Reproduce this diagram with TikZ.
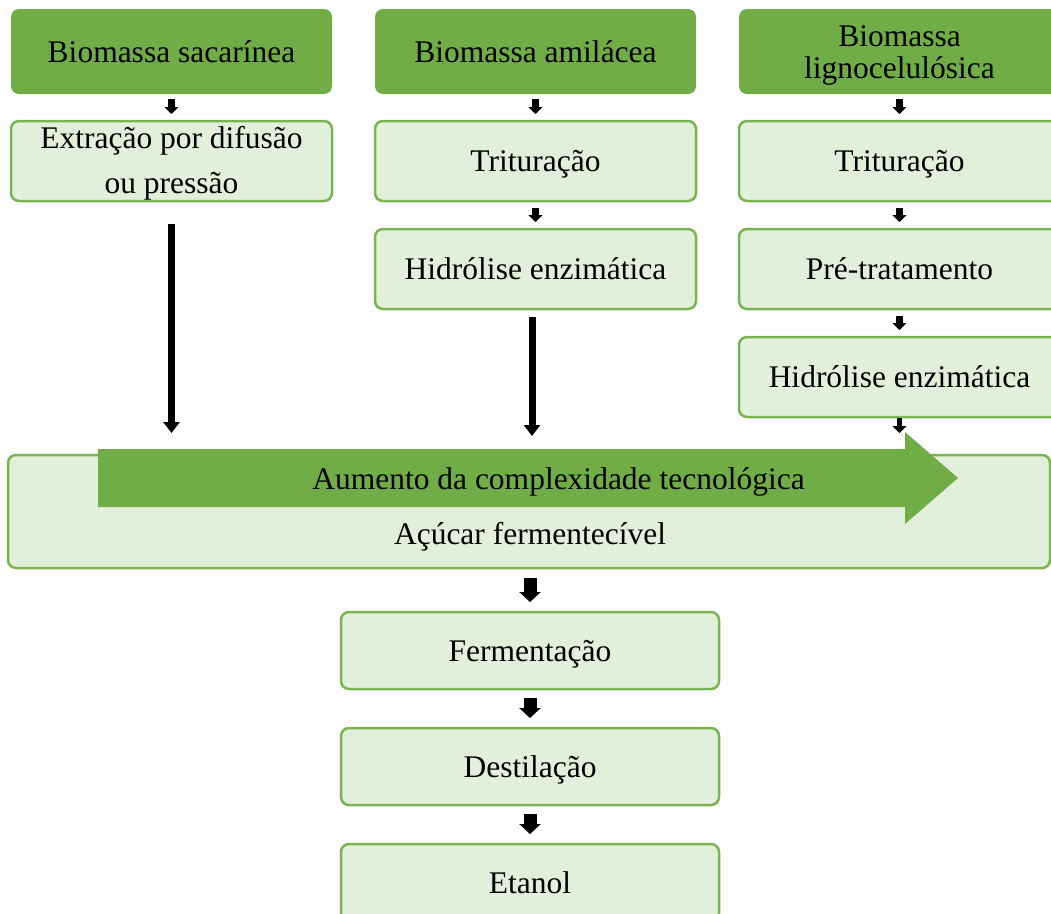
\documentclass[tikz,border=0pt]{standalone}
\usepackage{fontspec}
\setmainfont{Liberation Serif}
\usetikzlibrary{arrows.meta}
\definecolor{dkgreen}{HTML}{70AD47}
\definecolor{ltgreen}{HTML}{E2EFDA}
\definecolor{bdgreen}{HTML}{7AB451}
\newcommand{\twolines}[4]{\raisebox{#3}[30pt][30pt]{\fontsize{31.5}{#4}\selectfont\begin{tabular}[t]{@{}c@{}}#1\\#2\end{tabular}}}
\tikzset{
  base/.style={rectangle, rounded corners=8pt, inner sep=0pt, outer sep=0pt, align=center,
    font=\fontsize{31.5}{40}\selectfont, text height=28pt, text depth=7pt},
  multi/.style={text height=, text depth=},
  headbox/.style={base, fill=dkgreen, minimum width=321pt, minimum height=85pt},
  stepbox/.style={base, fill=ltgreen, draw=bdgreen, line width=2.5pt, minimum width=321pt, minimum height=80pt},
  lowbox/.style={base, fill=ltgreen, draw=bdgreen, line width=2.5pt, minimum width=378pt, minimum height=77pt},
  smallarrow/.style={line width=6.5pt, -{Triangle[width=14pt,length=7pt]}},
  longarrow/.style={line width=7pt, -{Triangle[width=16pt,length=11pt]}},
  bigarrow/.style={line width=13pt, -{Triangle[width=21pt,length=10pt]}},
  lbl/.style={inner sep=0pt, anchor=base, font=\fontsize{31.5}{40}\selectfont}
}
\begin{document}
\begin{tikzpicture}[x=1pt,y=-1pt]
\useasboundingbox (0,0) rectangle (1051,913);
\clip (0,0) rectangle (1051,913);
% header boxes
\node[headbox] (s1) at (171.5,51.5) {Biomassa sacarínea};
\node[headbox, multi] (s3) at (899.5,51.5) {\twolines{Biomassa}{lignocelulósica}{5.5pt}{32}};
\node[headbox] (s2) at (535.5,51.5) {Biomassa amilácea};
% step boxes
\node[stepbox, multi] (e1) at (171.5,161) {\twolines{Extração por difusão}{ou pressão}{13pt}{45}};
\node[stepbox] (t2) at (535.5,161) {Trituração};
\node[stepbox] (h2) at (535.5,269) {Hidrólise enzimática};
\node[stepbox] (t3) at (899.5,161) {Trituração};
\node[stepbox] (p3) at (899.5,269) {Pré-tratamento};
\node[stepbox] (h3) at (899.5,377) {Hidrólise enzimática};
% big box
\node[stepbox, minimum width=1042pt, minimum height=113pt] (big) at (529,511.5) {};
\fill[dkgreen] (98,449) -- (905,449) -- (905,432) -- (958,478) -- (905,524) -- (905,507) -- (98,507) -- cycle;
\node[lbl] (aum) at (558.5,489.5) {Aumento da complexidade tecnológica};
\node[lbl] (acu) at (530,544) {Açúcar fermentecível};
% lower boxes
\node[lowbox] (f) at (530,650.5) {Fermentação};
\node[lowbox] (d) at (530,766.5) {Destilação};
\node[lowbox] (et) at (530,882.5) {Etanol};
% arrows
\draw[smallarrow, shorten <=5pt, shorten >=7pt] (s1.south) -- (e1.north);
\draw[smallarrow, shorten <=5pt, shorten >=7pt] (s2.south) -- (t2.north);
\draw[smallarrow, shorten <=5pt, shorten >=7pt] (s3.south) -- (t3.north);
\draw[smallarrow, shorten <=7pt, shorten >=7pt] (t2.south) -- (h2.north);
\draw[smallarrow, shorten <=7pt, shorten >=7pt] (t3.south) -- (p3.north);
\draw[smallarrow, shorten <=7pt, shorten >=7pt] (p3.south) -- (h3.north);
\draw[smallarrow, line width=5pt, shorten <=1pt, shorten >=22pt] (h3.south) -- (h3.south |- big.north);
\draw[longarrow, shorten <=23pt, shorten >=22pt] (e1.south) -- (e1.south |- big.north);
\draw[longarrow, shorten <=8pt, shorten >=19pt] ([xshift=-3.5pt]h2.south) -- ([xshift=-3.5pt]h2.south |- big.north);
\draw[bigarrow, shorten <=10pt, shorten >=10pt] (big.south -| f.north) -- (f.north);
\draw[bigarrow, shorten <=9pt, shorten >=10pt] (f.south) -- (d.north);
\draw[bigarrow, shorten <=9pt, shorten >=10pt] (d.south) -- (et.north);
\end{tikzpicture}
\end{document}
